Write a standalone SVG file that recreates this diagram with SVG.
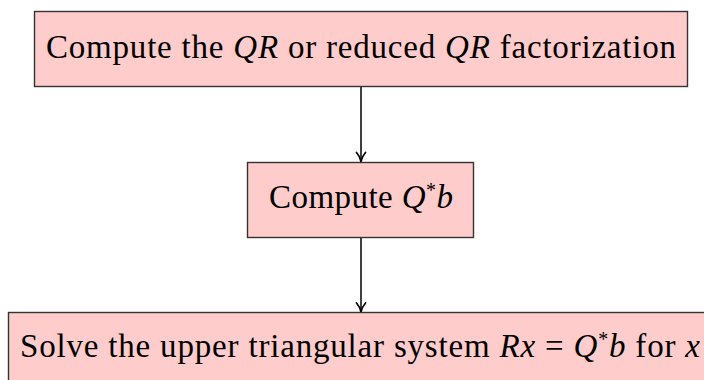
<svg xmlns="http://www.w3.org/2000/svg" width="704" height="380" viewBox="0 0 704 380">
  <style>
    .box { fill: #ffcccc; stroke: #333; stroke-width: 1.4; }
    .lbl { font-family: "Liberation Serif", "DejaVu Serif", serif; font-size: 33px; fill: #000; text-anchor: middle; }
    .m { font-style: italic; }
    .sup { font-size: 20px; }
    .edge { stroke: #000; stroke-width: 1.5; fill: none; marker-end: url(#arrow); }
  </style>
  <defs>
    <marker id="arrow" viewBox="0 0 12 12" refX="11" refY="6" markerWidth="12" markerHeight="12" markerUnits="userSpaceOnUse" orient="auto">
      <path d="M2,1.5 Q6,5 11,6 Q6,7 2,10.5" fill="none" stroke="#000" stroke-width="1.7" stroke-linecap="round" stroke-linejoin="round"/>
    </marker>
  </defs>
  <rect width="704" height="380" fill="#fff"/>
  <g id="edges">
    <line class="edge" x1="361" y1="87" x2="361" y2="161.5"/>
    <line class="edge" x1="361" y1="237" x2="361" y2="312"/>
  </g>
  <g id="qr">
    <rect class="box" x="34.5" y="11.5" width="653" height="75"/>
    <text class="lbl" x="361" y="58" textLength="630">Compute the <tspan class="m">QR</tspan> or reduced <tspan class="m">QR</tspan> factorization</text>
  </g>
  <g id="qtb">
    <rect class="box" x="247.5" y="162.5" width="226" height="75"/>
    <text class="lbl" x="361" y="208" textLength="184">Compute <tspan class="m">Q</tspan><tspan class="sup" dy="-11">*</tspan><tspan class="m" dy="11">b</tspan></text>
  </g>
  <g id="solve">
    <rect class="box" x="8.5" y="312.5" width="720" height="75"/>
    <text class="lbl" x="360" y="357" textLength="680">Solve the upper triangular system <tspan class="m">Rx</tspan> = <tspan class="m">Q</tspan><tspan class="sup" dy="-11">*</tspan><tspan class="m" dy="11">b</tspan> for <tspan class="m">x</tspan></text>
  </g>
</svg>
